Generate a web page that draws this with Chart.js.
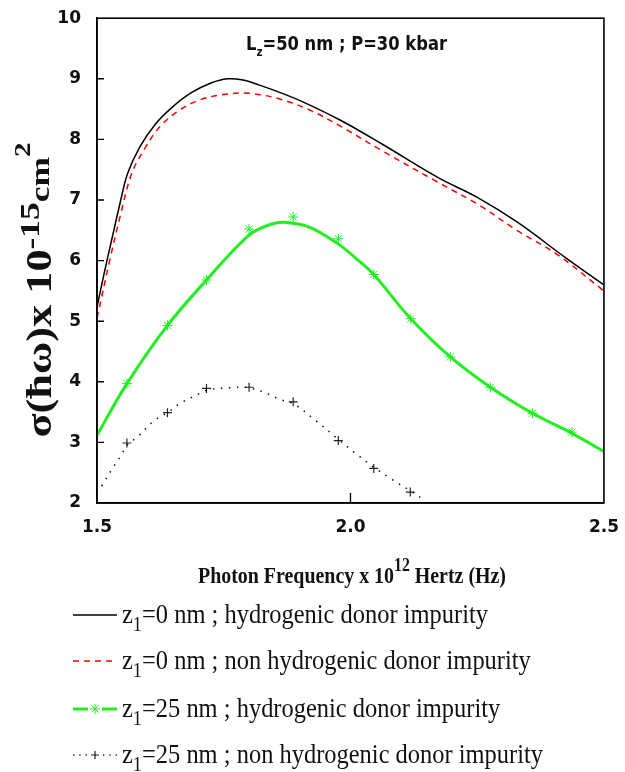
<!DOCTYPE html>
<html>
<head>
<meta charset="utf-8">
<title>Photo-ionization cross section</title>
<script src="https://cdn.jsdelivr.net/npm/chart.js@4.4.0/dist/chart.umd.min.js"></script>
<style>
  html, body { margin: 0; padding: 0; background: #fff; }
  #wrap { width: 625px; height: 772px; }
</style>
</head>
<body>
<div id="wrap"><canvas id="chart" width="625" height="772"></canvas></div>
<script>
// chart data

// z_i = 0 nm, hydrogenic (solid black)
const freqHydro0 = [1.5, 1.509, 1.521, 1.533, 1.545, 1.56, 1.584, 1.615, 1.647, 1.686, 1.725, 1.757, 1.788, 1.819, 1.859, 1.906, 1.984, 2.063, 2.173, 2.251, 2.33, 2.424, 2.5];
const sigmaHydro0 = [5.23, 5.59, 6.05, 6.49, 6.93, 7.43, 7.87, 8.25, 8.52, 8.77, 8.93, 9.0, 8.98, 8.9, 8.78, 8.62, 8.3, 7.92, 7.37, 7.04, 6.63, 6.05, 5.6];

// z_i = 0 nm, non hydrogenic (red dashed)
const freqNonHydro0 = [1.5, 1.525, 1.545, 1.568, 1.592, 1.623, 1.662, 1.702, 1.749, 1.8, 1.859, 1.921, 1.984, 2.063, 2.173, 2.251, 2.33, 2.408, 2.5];
const sigmaNonHydro0 = [5.05, 6.0, 6.71, 7.43, 7.82, 8.2, 8.48, 8.65, 8.74, 8.76, 8.67, 8.48, 8.2, 7.81, 7.29, 6.93, 6.49, 6.1, 5.5];

// z_i = 25 nm, hydrogenic (green line + asterisks)
const freqHydro25 = [1.5, 1.559, 1.639, 1.716, 1.8, 1.843, 1.874, 1.92, 1.975, 2.016, 2.046, 2.119, 2.197, 2.276, 2.359, 2.437, 2.5];
const sigmaHydro25 = [3.12, 3.97, 4.93, 5.68, 6.42, 6.6, 6.63, 6.55, 6.28, 6.0, 5.77, 5.04, 4.41, 3.91, 3.48, 3.15, 2.85];
const freqHydro25Marks = [1.559, 1.639, 1.716, 1.8, 1.887, 1.976, 2.046, 2.119, 2.197, 2.276, 2.359, 2.437];
const sigmaHydro25Marks = [3.97, 4.93, 5.68, 6.52, 6.72, 6.36, 5.77, 5.04, 4.41, 3.91, 3.48, 3.17];

// z_i = 25 nm, non hydrogenic (black dotted + crosses)
const freqNonHydro25 = [1.509, 1.535, 1.548, 1.559, 1.581, 1.614, 1.639, 1.663, 1.696, 1.716, 1.76, 1.8, 1.843, 1.86, 1.887, 1.93, 1.976, 2.01, 2.046, 2.08, 2.118, 2.146];
const sigmaNonHydro25 = [2.28, 2.63, 2.79, 2.95, 3.1, 3.37, 3.49, 3.64, 3.78, 3.86, 3.9, 3.9, 3.78, 3.71, 3.64, 3.37, 3.05, 2.82, 2.59, 2.4, 2.2, 2.05];
const freqNonHydro25Marks = [1.559, 1.639, 1.716, 1.8, 1.887, 1.976, 2.046, 2.118];
const sigmaNonHydro25Marks = [2.99, 3.49, 3.89, 3.91, 3.67, 3.03, 2.57, 2.18];

// axis ticks
const xTicks = [1.5, 2.0, 2.5];
const yTicks = [2, 3, 4, 5, 6, 7, 8, 9, 10];

// legend entries
const legendLabels = [
  ['0', ' nm ; hydrogenic donor impurity'],
  ['0', ' nm ; non hydrogenic donor impurity'],
  ['25', ' nm ; hydrogenic donor impurity'],
  ['25', ' nm ; non hydrogenic donor impurity']
];

const GREEN = '#22ee22';
const SERIF = '"Liberation Serif", "Times New Roman", serif';
const SANS = '"DejaVu Sans", Tahoma, sans-serif';

/**
 * Zip two arrays into {x, y} points
 */
function toPoints(xs, ys) {
  return xs.map((x, i) => ({ x, y: ys[i] }));
}

/**
 * Draw a run of text pieces (with sub/superscripts)
 * @param {CanvasRenderingContext2D} ctx
 * @param {Array} parts [{t, font, dy}]
 * @param {number} sx horizontal squeeze factor
 * @param {string} align 'left' or 'center'
 * @returns {number} natural width of the run
 */
function drawRich(ctx, parts, x, y, sx, align) {
  let total = 0;
  parts.forEach(p => {
    ctx.font = p.font;
    p.w = ctx.measureText(p.t).width;
    total += p.w;
  });
  ctx.save();
  ctx.translate(x, y);
  ctx.scale(sx, 1);
  let cx = align === 'center' ? -total / 2 : 0;
  ctx.textAlign = 'left';
  ctx.textBaseline = 'alphabetic';
  parts.forEach(p => {
    ctx.font = p.font;
    ctx.fillText(p.t, cx, p.dy || 0);
    cx += p.w;
  });
  ctx.restore();
  return total;
}

/**
 * Natural width of a run of text pieces
 */
function measureRich(ctx, parts) {
  return parts.reduce((sum, p) => {
    ctx.font = p.font;
    return sum + ctx.measureText(p.t).width;
  }, 0);
}

// frame, inward ticks, annotation, axis titles and legend
const decorPlugin = {
  id: 'decor',
  afterDatasetsDraw(chart) {
    const { ctx, chartArea: a, scales } = chart;
    ctx.save();

    // box around the plot
    ctx.strokeStyle = '#000';
    ctx.lineWidth = 1.6;
    ctx.strokeRect(a.left, a.top, a.right - a.left, a.bottom - a.top);

    // inward tick marks
    ctx.lineWidth = 1.4;
    ctx.beginPath();
    yTicks.slice(1, -1).forEach(v => {
      const py = scales.y.getPixelForValue(v);
      ctx.moveTo(a.left, py);
      ctx.lineTo(a.left + 7, py);
    });
    xTicks.slice(1, -1).forEach(v => {
      const px = scales.x.getPixelForValue(v);
      ctx.moveTo(px, a.bottom);
      ctx.lineTo(px, a.bottom - 10);
    });
    ctx.stroke();

    ctx.fillStyle = '#111';

    // annotation inside the plot
    const note = [
      { t: 'L', font: 'bold 19px ' + SANS },
      { t: 'z', font: 'bold 12px ' + SANS, dy: 6 },
      { t: '=50 nm ; P=30 kbar', font: 'bold 19px ' + SANS }
    ];
    drawRich(ctx, note, 246, 50, 201 / measureRich(ctx, note), 'left');

    // x axis title
    const xTitle = [
      { t: 'Photon Frequency x 10', font: 'bold 24px ' + SERIF },
      { t: '12', font: 'bold 19px ' + SERIF, dy: -12 },
      { t: ' Hertz (Hz)', font: 'bold 24px ' + SERIF }
    ];
    drawRich(ctx, xTitle, 198, 583, 308 / measureRich(ctx, xTitle), 'left');

    // y axis title (rotated)
    const yTitle = [
      { t: 'σ(ħω)x 10', font: 'bold 35px ' + SERIF },
      { t: '-15', font: 'bold 28px ' + SERIF, dy: -12 },
      { t: 'cm', font: 'bold 28px ' + SERIF, dy: -2 },
      { t: '2', font: 'bold 23px ' + SERIF, dy: -21 }
    ];
    ctx.save();
    ctx.translate(51, 290);
    ctx.rotate(-Math.PI / 2);
    drawRich(ctx, yTitle, 0, 0, 295 / measureRich(ctx, yTitle), 'center');
    ctx.restore();

    // legend
    const rows = [623, 669, 717, 763];
    const textFont = '28px ' + SERIF;
    const subFont = '21px ' + SERIF;
    const x0 = 73, x1 = 117, tx = 122;
    const rowParts = legendLabels.map(([z, rest]) => [
      { t: 'z', font: textFont },
      { t: '1', font: subFont, dy: 8 },
      { t: '=' + z + rest, font: textFont }
    ]);
    // squeeze factor taken from the first row
    const squeeze = 366 / measureRich(ctx, rowParts[0]);

    rowParts.forEach((parts, i) => {
      const by = rows[i];
      const ly = by - 8;
      ctx.fillStyle = '#111';
      drawRich(ctx, parts, tx, by, squeeze, 'left');

      ctx.save();
      ctx.beginPath();
      if (i === 0) {
        ctx.strokeStyle = '#000';
        ctx.lineWidth = 1.5;
        ctx.moveTo(x0, ly); ctx.lineTo(x1, ly);
        ctx.stroke();
      } else if (i === 1) {
        ctx.strokeStyle = '#ff0000';
        ctx.lineWidth = 1.5;
        ctx.setLineDash([6, 5]);
        ctx.moveTo(x0, ly); ctx.lineTo(x1, ly);
        ctx.stroke();
      } else if (i === 2) {
        ctx.strokeStyle = GREEN;
        ctx.lineWidth = 3;
        ctx.moveTo(x0, ly); ctx.lineTo(x0 + 15, ly);
        ctx.moveTo(x1 - 15, ly); ctx.lineTo(x1, ly);
        ctx.stroke();
        ctx.lineWidth = 1;
        Chart.helpers.drawPoint(ctx, { pointStyle: 'star', radius: 5, borderWidth: 1 }, (x0 + x1) / 2, ly);
      } else {
        ctx.strokeStyle = '#222';
        ctx.lineWidth = 1.3;
        ctx.setLineDash([1.3, 5]);
        ctx.moveTo(x0, ly); ctx.lineTo(x0 + 14, ly);
        ctx.moveTo(x1 - 14, ly); ctx.lineTo(x1, ly);
        ctx.stroke();
        ctx.setLineDash([]);
        ctx.lineWidth = 1.2;
        Chart.helpers.drawPoint(ctx, { pointStyle: 'cross', radius: 4, borderWidth: 1.2 }, (x0 + x1) / 2, ly);
      }
      ctx.restore();
    });

    ctx.restore();
  }
};

const lineBase = {
  pointRadius: 0,
  tension: 0.35,
  fill: false
};

new Chart(document.getElementById('chart'), {
  type: 'line',
  data: {
    datasets: [
      Object.assign({}, lineBase, {
        label: 'zi=0 nm ; hydrogenic donor impurity',
        data: toPoints(freqHydro0, sigmaHydro0),
        borderColor: '#000',
        borderWidth: 1.5
      }),
      Object.assign({}, lineBase, {
        label: 'zi=0 nm ; non hydrogenic donor impurity',
        data: toPoints(freqNonHydro0, sigmaNonHydro0),
        borderColor: '#ff0000',
        borderWidth: 1.5,
        borderDash: [6, 5]
      }),
      Object.assign({}, lineBase, {
        label: 'zi=25 nm ; hydrogenic donor impurity',
        data: toPoints(freqHydro25, sigmaHydro25),
        borderColor: GREEN,
        borderWidth: 3
      }),
      {
        label: 'zi=25 nm ; hydrogenic (points)',
        data: toPoints(freqHydro25Marks, sigmaHydro25Marks),
        showLine: false,
        pointStyle: 'star',
        pointRadius: 5,
        pointBorderWidth: 1,
        borderColor: GREEN,
        backgroundColor: 'transparent'
      },
      Object.assign({}, lineBase, {
        label: 'zi=25 nm ; non hydrogenic donor impurity',
        data: toPoints(freqNonHydro25, sigmaNonHydro25),
        borderColor: '#111',
        borderWidth: 1.5,
        borderDash: [1.5, 6.5]
      }),
      {
        label: 'zi=25 nm ; non hydrogenic (points)',
        data: toPoints(freqNonHydro25Marks, sigmaNonHydro25Marks),
        showLine: false,
        pointStyle: 'cross',
        pointRadius: 4.5,
        pointBorderWidth: 1.2,
        borderColor: '#222',
        backgroundColor: 'transparent'
      }
    ]
  },
  options: {
    responsive: false,
    animation: false,
    events: [],
    layout: { padding: { top: 17, right: 20, left: 0, bottom: 0 } },
    plugins: {
      legend: { display: false },
      tooltip: { enabled: false },
      title: { display: false }
    },
    scales: {
      x: {
        type: 'linear',
        min: 1.5,
        max: 2.5,
        afterFit: (s) => { s.height = 269; },
        afterBuildTicks: (s) => { s.ticks = xTicks.map(v => ({ value: v })); },
        ticks: {
          padding: 6,
          color: '#111',
          font: { family: SANS, size: 17, weight: 'bold' },
          callback: (v) => v.toFixed(1)
        },
        grid: { display: false },
        border: { display: true, color: '#000', width: 1.6 }
      },
      y: {
        type: 'linear',
        min: 2,
        max: 10,
        afterFit: (s) => { s.width = 97; },
        afterBuildTicks: (s) => { s.ticks = yTicks.map(v => ({ value: v })); },
        ticks: {
          padding: 8,
          color: '#111',
          font: { family: SANS, size: 17, weight: 'bold' }
        },
        grid: { display: false },
        border: { display: true, color: '#000', width: 1.6 }
      }
    }
  },
  plugins: [decorPlugin]
});
</script>
</body>
</html>
